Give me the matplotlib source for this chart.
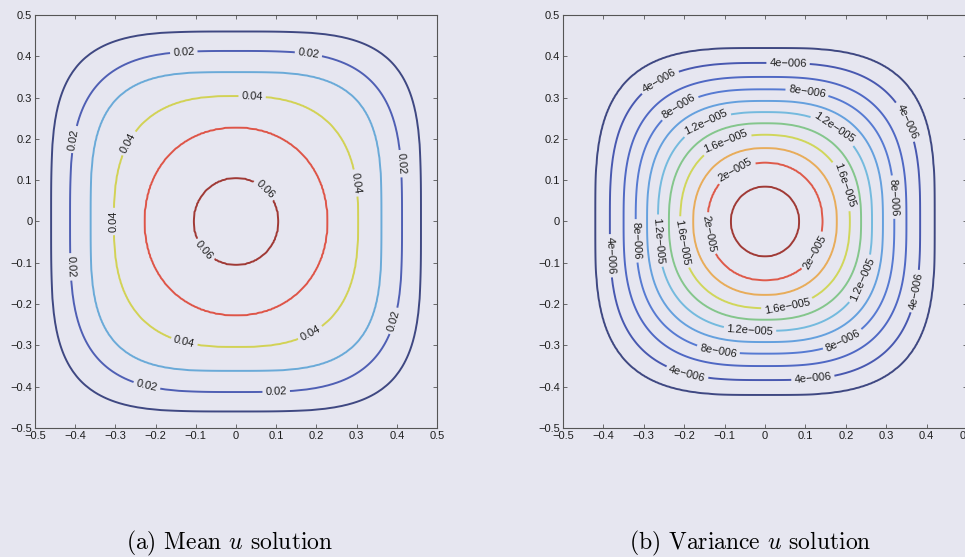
import numpy as np
import matplotlib
matplotlib.use("Agg")
import matplotlib.pyplot as plt

matplotlib.rcParams.update({'xtick.direction': 'in', 'ytick.direction': 'in',
                            'font.family': ['Liberation Sans', 'DejaVu Sans'],
                            'mathtext.fontset': 'cm'})

# contour levels (outer -> inner)
mean_levels = [0.01, 0.02, 0.03, 0.04, 0.05, 0.06]
# half width of each contour along the axes, and along the diagonal
mean_axis = [0.460, 0.413, 0.362, 0.304, 0.228, 0.106]
mean_diag = [0.386, 0.338, 0.297, 0.235, 0.164, 0.075]
mean_peak = 0.064
mean_colors = ['#3f4882', '#4f5fb4', '#6aaad8', '#d2d255', '#de5548', '#a03a36']

var_levels = [2e-6, 4e-6, 6e-6, 8e-6, 1e-5, 1.2e-5, 1.4e-5, 1.6e-5, 1.8e-5, 2e-5, 2.2e-5]
var_axis = [0.420, 0.384, 0.350, 0.320, 0.292, 0.265, 0.238, 0.210, 0.178, 0.143, 0.085]
var_diag = [0.341, 0.307, 0.276, 0.250, 0.226, 0.202, 0.179, 0.156, 0.130, 0.103, 0.060]
var_peak = 2.4e-5
var_colors = ['#3f4882', '#4858b0', '#4f68c4', '#567ad2', '#64a0de', '#74bade',
              '#84c68c', '#d0d65a', '#e8ac5a', '#de5a4a', '#a03a36']

ticks = [-0.5, -0.4, -0.3, -0.2, -0.1, 0, 0.1, 0.2, 0.3, 0.4, 0.5]
tick_labels = ['\u22120.5', '\u22120.4', '\u22120.3', '\u22120.2', '\u22120.1', '0',
               '0.1', '0.2', '0.3', '0.4', '0.5']

# label spots (approx), same as in the original figure
mean_label_pos = [(-0.13, 0.41), (0.18, 0.405), (-0.41, 0.2), (0.41, 0.14),
                  (-0.415, -0.11), (0.39, -0.24), (-0.22, -0.39), (0.10, -0.415),
                  (0.04, 0.30), (-0.25, 0.18), (0.28, 0.09), (-0.30, 0.0),
                  (-0.13, -0.295), (0.18, -0.26), (0.07, 0.075), (-0.08, -0.07)]
var_label_pos = [(0.057, 0.378), (-0.252, 0.324), (0.338, 0.237), (-0.382, -0.083),
                 (0.367, -0.168), (-0.194, -0.372), (0.119, -0.385),
                 (0.103, 0.306), (-0.207, 0.269), (0.317, 0.059), (-0.322, -0.047),
                 (0.194, -0.29), (-0.116, -0.314),
                 (-0.141, 0.229), (0.165, 0.217), (-0.269, -0.047), (0.231, -0.136),
                 (-0.038, -0.277),
                 (-0.091, 0.180), (0.181, 0.083), (-0.207, -0.051), (0.057, -0.213),
                 (-0.066, 0.111), (-0.141, -0.030), (0.115, -0.071)]


def build_field(levels, axis_w, diag_w, peak, n=301):
    # nested rounded squares through the read contours, value filled in between
    x = np.linspace(-0.5, 0.5, n)
    X, Y = np.meshgrid(x, x)
    lv = np.array([0.0] + list(levels))
    a = np.array([0.5] + list(axis_w))
    d = np.array([0.499] + list(diag_w))
    p = np.log(2) / np.log(a / d)
    S = np.stack([((np.abs(X) / a[i]) ** p[i] + (np.abs(Y) / a[i]) ** p[i]) ** (1 / p[i])
                  for i in range(len(a))])
    k = (S < 1).sum(axis=0)
    Z = np.zeros_like(X)
    last = len(a) - 1
    inner = k > last
    Z[inner] = lv[last] + (peak - lv[last]) * (1 - S[last][inner])
    for j in range(1, last + 1):
        m = k == j
        g_out = 1 - S[j - 1][m]
        g_in = S[j][m] - 1
        t = g_out / (g_out + g_in)
        Z[m] = lv[j - 1] + t * (lv[j] - lv[j - 1])
    return X, Y, Z


def matlab_fmt(v):
    s = '%g' % v
    if 'e' in s:
        m, e = s.split('e')
        s = '%se%s%03d' % (m, e[0], abs(int(e)))
    return s.replace('-', '\u2212')


bg = '#e6e6f0'
fig = plt.figure(figsize=(9.65, 5.57), dpi=100, facecolor=bg)
ax0 = fig.add_axes([0.0363, 0.2316, 0.4166, 0.7415])
ax1 = fig.add_axes([0.5834, 0.2316, 0.4187, 0.7415])

panels = [(ax0, mean_levels, mean_axis, mean_diag, mean_peak, mean_colors, mean_label_pos),
          (ax1, var_levels, var_axis, var_diag, var_peak, var_colors, var_label_pos)]

for ax, levels, aw, dw, peak, cols, lpos in panels:
    X, Y, Z = build_field(levels, aw, dw, peak)
    cs = ax.contour(X, Y, Z, levels=levels, colors=cols, linewidths=1.4)
    ax.clabel(cs, manual=lpos, inline=True, fmt=matlab_fmt, fontsize=8,
              colors='#1e1e1e', inline_spacing=3)
    ax.set_xlim(-0.5, 0.5)
    ax.set_ylim(-0.5, 0.5)
    ax.set_facecolor(bg)
    ax.set_xticks(ticks)
    ax.set_yticks(ticks)
    ax.set_xticklabels(tick_labels)
    ax.set_yticklabels(tick_labels)
    ax.tick_params(labelsize=8, length=3, width=0.6, color='#555555',
                   top=True, right=True, pad=2, labelcolor='#1e1e1e')
    for sp in ax.spines.values():
        sp.set_color('#555555')
        sp.set_linewidth(0.8)

fig.text(0.238, 0.025, r'(a) Mean $u$ solution', fontsize=17, family='cmr10',
         ha='center', va='center')
fig.text(0.778, 0.025, r'(b) Variance $u$ solution', fontsize=17, family='cmr10',
         ha='center', va='center')

fig.savefig('out.png', dpi=100, facecolor=bg)
